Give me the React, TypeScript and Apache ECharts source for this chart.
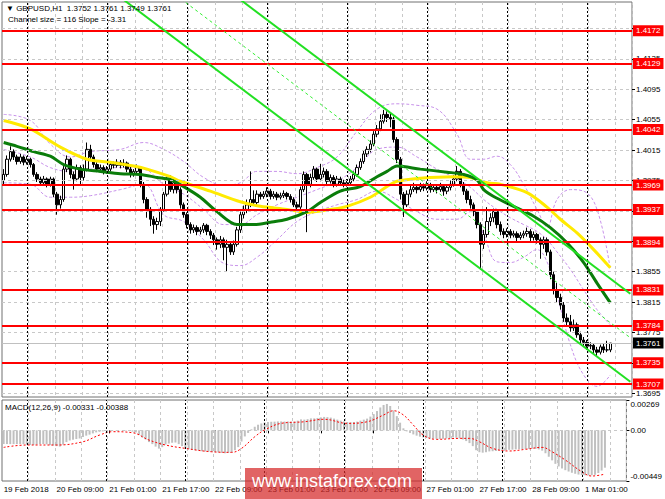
import { useEffect, useRef } from 'react';
import * as echarts from 'echarts';

const fontFamily = '"Liberation Sans", Arial, sans-serif';

// H1 bars, 19 Feb 17:00 .. 1 Mar 07:00, plus the right shift of empty slots
const slotCount = 189;
const slots = Array.from({ length: slotCount }, (_, i) => String(i));
const dateLabels = [
    '19 Feb 2018', '20 Feb 09:00', '21 Feb 01:00', '21 Feb 17:00', '22 Feb 09:00', '23 Feb 01:00',
    '23 Feb 17:00', '26 Feb 09:00', '27 Feb 01:00', '27 Feb 17:00', '28 Feb 09:00', '1 Mar 01:00',
];
const daySeparators = [7, 31, 55, 79, 103, 127, 151, 175];

const firstOpen = 1.3975;
const closes = [
    1.3983, 1.4003, 1.4013, 1.4006, 1.4000, 1.4006, 1.3999, 1.4003, 1.3996, 1.3983,
    1.3977, 1.3972, 1.3977, 1.3970, 1.3977, 1.3957, 1.3943, 1.3950, 1.3990, 1.4003,
    1.3983, 1.3977, 1.3992, 1.3979, 1.3990, 1.4016, 1.4006, 1.3996, 1.3990, 1.3992,
    1.3987, 1.3990, 1.3996, 1.3995, 1.3999, 1.3995, 1.3998, 1.3990, 1.3983, 1.3987,
    1.3992, 1.3970, 1.3950, 1.3937, 1.3924, 1.3917, 1.3921, 1.3937, 1.3957, 1.3977,
    1.3963, 1.3972, 1.3963, 1.3943, 1.3930, 1.3917, 1.3910, 1.3913, 1.3908, 1.3910,
    1.3916, 1.3908, 1.3903, 1.3897, 1.3891, 1.3897, 1.3887, 1.3891, 1.3881, 1.3891,
    1.3910, 1.3930, 1.3937, 1.3943, 1.3950, 1.3946, 1.3957, 1.3954, 1.3957, 1.3961,
    1.3954, 1.3957, 1.3953, 1.3955, 1.3958, 1.3954, 1.3950, 1.3943, 1.3940, 1.3963,
    1.3983, 1.3970, 1.3979, 1.3990, 1.3977, 1.3983, 1.3987, 1.3974, 1.3979, 1.3970,
    1.3977, 1.3972, 1.3970, 1.3972, 1.3977, 1.3983, 1.3992, 1.4000, 1.4010, 1.4016,
    1.4023, 1.4036, 1.4043, 1.4053, 1.4062, 1.4058, 1.4056, 1.4029, 1.4003, 1.3957,
    1.3943, 1.3957, 1.3963, 1.3966, 1.3963, 1.3967, 1.3965, 1.3969, 1.3963, 1.3966,
    1.3963, 1.3967, 1.3961, 1.3966, 1.3970, 1.3977, 1.3987, 1.3970, 1.3961, 1.3950,
    1.3943, 1.3934, 1.3917, 1.3891, 1.3904, 1.3921, 1.3926, 1.3934, 1.3917, 1.3908,
    1.3904, 1.3908, 1.3903, 1.3905, 1.3900, 1.3903, 1.3905, 1.3908, 1.3900, 1.3904,
    1.3897, 1.3891, 1.3897, 1.3881, 1.3851, 1.3831, 1.3821, 1.3811, 1.3794, 1.3789,
    1.3781, 1.3785, 1.3772, 1.3765, 1.3762, 1.3757, 1.3758, 1.3752, 1.3749, 1.3756,
    1.3752, 1.3752, 1.3761,
];
const highs = [
    1.3990, 1.4008, 1.4020, 1.4016, 1.4009, 1.4010, 1.4008, 1.4007, 1.4005, 1.3998,
    1.3986, 1.3980, 1.3981, 1.3979, 1.3980, 1.3979, 1.3960, 1.3955, 1.3994, 1.4008,
    1.4005, 1.3987, 1.3996, 1.3995, 1.3996, 1.4025, 1.4022, 1.4009, 1.3999, 1.3996,
    1.3995, 1.3994, 1.3999, 1.4000, 1.4003, 1.4002, 1.4003, 1.4000, 1.3993, 1.3990,
    1.3996, 1.3994, 1.3973, 1.3953, 1.3940, 1.3928, 1.3926, 1.3940, 1.3960, 1.3980,
    1.3982, 1.3977, 1.3976, 1.3966, 1.3946, 1.3933, 1.3920, 1.3917, 1.3916, 1.3914,
    1.3919, 1.3918, 1.3911, 1.3906, 1.3900, 1.3902, 1.3900, 1.3897, 1.3895, 1.3896,
    1.3914, 1.3934, 1.3942, 1.3950, 1.3987, 1.3962, 1.3962, 1.3960, 1.3961, 1.3966,
    1.3964, 1.3961, 1.3960, 1.3959, 1.3962, 1.3960, 1.3957, 1.3953, 1.3947, 1.3967,
    1.3987, 1.3985, 1.3984, 1.3994, 1.3992, 1.3997, 1.3992, 1.3990, 1.3983, 1.3982,
    1.3981, 1.3980, 1.3976, 1.3977, 1.3981, 1.3987, 1.3996, 1.4004, 1.4014, 1.4020,
    1.4028, 1.4040, 1.4048, 1.4062, 1.4068, 1.4066, 1.4064, 1.4059, 1.4032, 1.4006,
    1.3960, 1.3962, 1.3968, 1.3972, 1.3970, 1.3972, 1.3971, 1.3974, 1.3972, 1.3970,
    1.3969, 1.3972, 1.3970, 1.3970, 1.3975, 1.3982, 1.3994, 1.3990, 1.3973, 1.3964,
    1.3955, 1.3946, 1.3937, 1.3920, 1.3910, 1.3940, 1.3932, 1.3938, 1.3937, 1.3921,
    1.3912, 1.3912, 1.3911, 1.3909, 1.3908, 1.3907, 1.3909, 1.3913, 1.3911, 1.3908,
    1.3906, 1.3900, 1.3901, 1.3900, 1.3884, 1.3855, 1.3840, 1.3826, 1.3815, 1.3800,
    1.3798, 1.3792, 1.3788, 1.3776, 1.3769, 1.3765, 1.3762, 1.3760, 1.3756, 1.3759,
    1.3760, 1.3764, 1.3761,
];
const lows = [
    1.3970, 1.3980, 1.4000, 1.4002, 1.3996, 1.3997, 1.3995, 1.3996, 1.3992, 1.3980,
    1.3973, 1.3968, 1.3969, 1.3966, 1.3967, 1.3953, 1.3930, 1.3938, 1.3947, 1.3986,
    1.3978, 1.3963, 1.3974, 1.3968, 1.3975, 1.3987, 1.4002, 1.3992, 1.3986, 1.3985,
    1.3983, 1.3984, 1.3987, 1.3991, 1.3992, 1.3991, 1.3992, 1.3986, 1.3979, 1.3980,
    1.3983, 1.3966, 1.3945, 1.3926, 1.3915, 1.3905, 1.3910, 1.3915, 1.3934, 1.3954,
    1.3960, 1.3958, 1.3958, 1.3938, 1.3926, 1.3912, 1.3905, 1.3906, 1.3903, 1.3904,
    1.3906, 1.3903, 1.3898, 1.3890, 1.3884, 1.3886, 1.3870, 1.3855, 1.3877, 1.3877,
    1.3888, 1.3906, 1.3925, 1.3932, 1.3940, 1.3942, 1.3943, 1.3950, 1.3951, 1.3953,
    1.3950, 1.3951, 1.3949, 1.3950, 1.3952, 1.3950, 1.3946, 1.3940, 1.3935, 1.3937,
    1.3960, 1.3907, 1.3966, 1.3976, 1.3973, 1.3974, 1.3979, 1.3970, 1.3971, 1.3966,
    1.3967, 1.3968, 1.3966, 1.3967, 1.3969, 1.3974, 1.3980, 1.3989, 1.3997, 1.4006,
    1.4012, 1.4020, 1.4032, 1.4040, 1.4050, 1.4052, 1.4045, 1.4025, 1.3998, 1.3950,
    1.3927, 1.3940, 1.3953, 1.3960, 1.3958, 1.3960, 1.3961, 1.3962, 1.3959, 1.3960,
    1.3958, 1.3960, 1.3955, 1.3957, 1.3962, 1.3967, 1.3974, 1.3966, 1.3956, 1.3945,
    1.3938, 1.3928, 1.3912, 1.3858, 1.3885, 1.3900, 1.3915, 1.3920, 1.3912, 1.3903,
    1.3899, 1.3900, 1.3899, 1.3900, 1.3895, 1.3897, 1.3899, 1.3901, 1.3895, 1.3896,
    1.3892, 1.3872, 1.3885, 1.3876, 1.3845, 1.3825, 1.3815, 1.3805, 1.3789, 1.3783,
    1.3776, 1.3777, 1.3768, 1.3760, 1.3757, 1.3752, 1.3753, 1.3747, 1.3744, 1.3746,
    1.3748, 1.3749, 1.3749,
];

// moving averages, read at a few bars: [bar, price]
const slowMa = [
    [0, 1.4054], [8, 1.4043], [17, 1.4019], [25, 1.4003], [32, 1.3999], [39, 1.3994], [43, 1.3990],
    [50, 1.3980], [53, 1.3974], [62, 1.3961], [71, 1.3947], [77, 1.3941], [85, 1.3937], [91, 1.3933],
    [98, 1.3937], [103, 1.3941], [110, 1.3953], [115, 1.3967], [118, 1.3974], [125, 1.3978],
    [135, 1.3980], [140, 1.3979], [145, 1.3972], [149, 1.3970], [157, 1.3959], [163, 1.3940],
    [167, 1.3924], [172, 1.3906], [177, 1.3884], [182, 1.3860],
];
const fastMa = [
    [0, 1.4025], [4, 1.4020], [9, 1.4013], [14, 1.4007], [18, 1.3996], [23, 1.3990], [29, 1.3987],
    [35, 1.3984], [41, 1.3983], [46, 1.3979], [50, 1.3976], [54, 1.3967], [59, 1.3953], [64, 1.3934],
    [70, 1.3917], [75, 1.3917], [80, 1.3920], [85, 1.3924], [91, 1.3934], [95, 1.3946], [101, 1.3961],
    [107, 1.3967], [112, 1.3980], [115, 1.3987], [118, 1.3994], [125, 1.3990], [133, 1.3986],
    [138, 1.3983], [142, 1.3976], [144, 1.3963], [147, 1.3954], [153, 1.3941], [159, 1.3928],
    [164, 1.3913], [169, 1.3893], [174, 1.3867], [178, 1.3840], [182, 1.3814],
];

// bands
const bandBars = [0, 8, 14, 20, 26, 35, 42, 48, 54, 60, 66, 71, 76, 82, 88, 94, 100, 106, 112, 118, 124, 130, 136, 140, 144, 148, 152, 156, 160, 163, 166, 170, 174, 178, 182];
const bandUpper = [1.4062, 1.4054, 1.4023, 1.4006, 1.4013, 1.4016, 1.4025, 1.4016, 1.4000, 1.3979, 1.3969, 1.3972, 1.3987, 1.3987, 1.3984, 1.3992, 1.4006, 1.4040, 1.4069, 1.4076, 1.4074, 1.4069, 1.4036, 1.4003, 1.4003, 1.4007, 1.3996, 1.3970, 1.3937, 1.3914, 1.3950, 1.3963, 1.3961, 1.3937, 1.3858];
const bandMiddle = [1.4016, 1.4006, 1.3992, 1.3987, 1.3990, 1.3992, 1.3990, 1.3970, 1.3957, 1.3937, 1.3917, 1.3917, 1.3930, 1.3943, 1.3953, 1.3963, 1.3974, 1.3992, 1.4016, 1.4019, 1.4006, 1.3990, 1.3977, 1.3966, 1.3950, 1.3937, 1.3926, 1.3917, 1.3908, 1.3897, 1.3881, 1.3858, 1.3831, 1.3805, 1.3785];
const bandLower = [1.3972, 1.3970, 1.3953, 1.3953, 1.3955, 1.3963, 1.3970, 1.3930, 1.3921, 1.3897, 1.3866, 1.3863, 1.3874, 1.3897, 1.3921, 1.3934, 1.3943, 1.3950, 1.3961, 1.3950, 1.3934, 1.3924, 1.3924, 1.3934, 1.3904, 1.3868, 1.3867, 1.3874, 1.3884, 1.3868, 1.3825, 1.3759, 1.3719, 1.3704, 1.3719];

// regression channel, size 116 pips
const channelUpper = [[0, 1.4448], [188, 1.3826]];
const channelMiddle = [[0, 1.4390], [188, 1.3768]];
const channelLower = [[0, 1.4332], [188, 1.3710]];

const levels = [1.4172, 1.4129, 1.4042, 1.3969, 1.3937, 1.3894, 1.3831, 1.3784, 1.3735, 1.3707];
const priceTicks = [1.4175, 1.4135, 1.4095, 1.4055, 1.4015, 1.3975, 1.3935, 1.3895, 1.3855, 1.3815, 1.3775, 1.3735, 1.3695];
const lastPrice = 1.3761;

const macdHist = [
    -0.00121, -0.00121, -0.00122, -0.00122, -0.00122, -0.00121, -0.00122, -0.00126, -0.00129, -0.00130,
    -0.00126, -0.00122, -0.00121, -0.00124, -0.00131, -0.00135, -0.00140, -0.00144, -0.00126, -0.00104,
    -0.00090, -0.00083, -0.00077, -0.00072, -0.00059, -0.00047, -0.00038, -0.00027, -0.00018, -0.00013,
    -0.00009, -0.00006, -0.00003, -0.00002, -0.00002, -0.00001, -0.00002, -0.00004, -0.00005, -0.00011,
    -0.00018, -0.00041, -0.00063, -0.00081, -0.00104, -0.00122, -0.00144, -0.00162, -0.00149, -0.00126,
    -0.00117, -0.00110, -0.00108, -0.00122, -0.00140, -0.00158, -0.00167, -0.00173, -0.00177, -0.00180,
    -0.00185, -0.00187, -0.00189, -0.00191, -0.00194, -0.00196, -0.00200, -0.00203, -0.00200, -0.00196,
    -0.00176, -0.00149, -0.00099, -0.00054, -0.00023, 0.00009, 0.00032, 0.00050, 0.00061, 0.00070,
    0.00074, 0.00076, 0.00077, 0.00079, 0.00079, 0.00078, 0.00079, 0.00077, 0.00077, 0.00086,
    0.00097, 0.00095, 0.00099, 0.00106, 0.00106, 0.00110, 0.00115, 0.00119, 0.00117, 0.00113,
    0.00104, 0.00095, 0.00086, 0.00079, 0.00074, 0.00072, 0.00074, 0.00077, 0.00086, 0.00095,
    0.00104, 0.00122, 0.00144, 0.00171, 0.00203, 0.00225, 0.00234, 0.00216, 0.00176, 0.00126,
    0.00068, 0.00018, -0.00009, -0.00023, -0.00036, -0.00047, -0.00056, -0.00063, -0.00068, -0.00072,
    -0.00074, -0.00075, -0.00076, -0.00075, -0.00072, -0.00070, -0.00063, -0.00065, -0.00072, -0.00081,
    -0.00095, -0.00113, -0.00140, -0.00176, -0.00194, -0.00198, -0.00194, -0.00187, -0.00185, -0.00183,
    -0.00180, -0.00178, -0.00176, -0.00173, -0.00171, -0.00169, -0.00167, -0.00166, -0.00165, -0.00164,
    -0.00162, -0.00164, -0.00169, -0.00180, -0.00203, -0.00234, -0.00266, -0.00297, -0.00320, -0.00338,
    -0.00353, -0.00365, -0.00376, -0.00385, -0.00392, -0.00396, -0.00398, -0.00399, -0.00398, -0.00394,
    -0.00378, -0.00356, -0.00331,
];
const macdSignal = [
    [0, -0.00151], [7, -0.00130], [16, -0.00130], [24, -0.00101], [29, -0.00042], [33, -0.00012],
    [39, -0.00021], [44, -0.00086], [49, -0.00130], [55, -0.00160], [63, -0.00190], [69, -0.00195],
    [72, -0.00160], [76, -0.00057], [79, 0.00003], [84, 0.00062], [91, 0.00076], [97, 0.00098],
    [104, 0.00062], [110, 0.00076], [115, 0.00136], [118, 0.00174], [121, 0.00136], [124, 0.00047],
    [127, -0.00042], [131, -0.00080], [138, -0.00071], [141, -0.00071], [144, -0.00101], [148, -0.00160],
    [153, -0.00183], [158, -0.00168], [163, -0.00151], [166, -0.00190], [170, -0.00263], [175, -0.00367],
    [178, -0.00405], [182, -0.00388],
];
const macdTicks = [0.00269, 0, -0.00449];

export default function App() {
    const chartRef = useRef<HTMLDivElement>(null);

    useEffect(() => {
        if (!chartRef.current) return;
        document.body.style.margin = '0';
        const chart = echarts.init(chartRef.current, undefined, { renderer: 'svg' });

        const candles = closes.map((c, i) => [i === 0 ? firstOpen : closes[i - 1], c, lows[i], highs[i]]);
        const vGrid = { show: true, interval: (i: number) => i > 0 && i % 8 === 0, lineStyle: { color: '#c8c8c8', type: [3, 3], width: 1 } };
        const separators = daySeparators.map((i) => ({ xAxis: i, lineStyle: { color: '#000', type: [2, 2], width: 1 } }));
        const band = (values: number[]) => ({
            type: 'line', xAxisIndex: 0, yAxisIndex: 0, z: 2, silent: true, symbol: 'none', smooth: 0.4,
            data: bandBars.map((b, k) => [b, values[k]]),
            lineStyle: { color: '#c892ea', width: 1, type: [3, 2] },
        });
        const channel = (points: number[][], dashed: boolean) => ({
            type: 'line', xAxisIndex: 0, yAxisIndex: 0, z: 6, silent: true, symbol: 'none', clip: true,
            data: points,
            lineStyle: dashed ? { color: '#33ee33', width: 1, type: [3, 3] } : { color: '#22e022', width: 2 },
        });
        // one series per price tag, each carrying a single horizontal mark line
        const priceTag = (value: number, line: string, box: string, width: number) => ({
            type: 'line', xAxisIndex: 0, yAxisIndex: 0, z: 5, silent: true, data: [],
            markLine: {
                silent: true, symbol: 'none', precision: 6,
                data: [{
                    yAxis: value,
                    lineStyle: { color: line, width, type: 'solid' },
                    label: { show: true, position: 'end', distance: 1, formatter: value.toFixed(4), color: '#fff', backgroundColor: box, padding: [2, 3, 1, 3], fontSize: 8, fontFamily },
                }],
            },
        });

        const option = {
            animation: false,
            backgroundColor: '#ffffff',
            textStyle: { fontFamily },
            grid: [
                { left: 2, top: 2, width: 630, height: 395, show: true, borderColor: '#707070', borderWidth: 1 },
                { left: 2, top: 400, width: 630, height: 81, show: true, borderColor: '#707070', borderWidth: 1 },
            ],
            xAxis: [
                {
                    type: 'category', gridIndex: 0, data: slots, boundaryGap: true,
                    axisLine: { show: false }, axisTick: { show: false }, axisLabel: { show: false },
                    splitLine: vGrid,
                },
                {
                    type: 'category', gridIndex: 1, data: slots, boundaryGap: true,
                    axisLine: { show: false },
                    axisTick: { show: true, interval: 15, alignWithLabel: true, length: 3, lineStyle: { color: '#000' } },
                    axisLabel: {
                        interval: 15, align: 'left', margin: 4, fontSize: 8, color: '#000', fontFamily,
                        formatter: (_v: string, i: number) => (i % 16 === 0 ? dateLabels[i / 16] ?? '' : ''),
                    },
                    splitLine: vGrid,
                },
            ],
            yAxis: [
                {
                    type: 'value', gridIndex: 0, position: 'right', min: 1.369, max: 1.421,
                    splitLine: { show: false }, axisLine: { show: false },
                    axisTick: { show: true, customValues: priceTicks, length: 3, lineStyle: { color: '#000' } },
                    axisLabel: { customValues: priceTicks, formatter: (v: number) => v.toFixed(4), fontSize: 8, color: '#000', margin: 4, fontFamily },
                },
                {
                    type: 'value', gridIndex: 1, position: 'right', min: -0.00449, max: 0.00269,
                    splitLine: { show: false }, axisLine: { show: false },
                    axisTick: { show: true, customValues: macdTicks, length: 3, lineStyle: { color: '#000' } },
                    axisLabel: {
                        customValues: macdTicks, margin: 4, fontSize: 8, color: '#000', fontFamily,
                        formatter: (v: number) => (v > 0 ? `{t|${v.toFixed(5)}}` : v < 0 ? `{b|${v.toFixed(5)}}` : '{m|0.00}'),
                        rich: {
                            t: { padding: [9, 0, 0, 0], fontSize: 8, color: '#000', fontFamily },
                            b: { padding: [0, 0, 9, 0], fontSize: 8, color: '#000', fontFamily },
                            m: { fontSize: 8, color: '#000', fontFamily },
                        },
                    },
                },
            ],
            graphic: [
                { type: 'text', left: 6, top: 4, z: 50, style: { text: '▼ GBPUSD,H1  1.3752 1.3761 1.3749 1.3761', fontSize: 8, fill: '#000', fontFamily } },
                { type: 'text', left: 8, top: 15, z: 50, style: { text: 'Channel size = 116 Slope = -3.31', fontSize: 8, fill: '#000', fontFamily } },
                { type: 'text', left: 5, top: 403, z: 50, style: { text: 'MACD(12,26,9) -0.00331 -0.00388', fontSize: 8, fill: '#000', fontFamily } },
                { type: 'rect', left: 245, top: 468, z: 60, shape: { width: 177, height: 31 }, style: { fill: 'rgba(214,40,40,0.72)' } },
                { type: 'text', left: 252, top: 472, z: 61, style: { text: 'www.instaforex.com', fontSize: 18, fill: '#ffffff', fontFamily } },
            ],
            series: [
                {
                    type: 'line', xAxisIndex: 0, yAxisIndex: 0, z: 1, silent: true, data: [],
                    markLine: {
                        silent: true, symbol: 'none', precision: 6, label: { show: false },
                        data: [
                            ...priceTicks.map((v) => ({ yAxis: v, lineStyle: { color: '#c8c8c8', type: [3, 3], width: 1 } })),
                            ...separators,
                        ],
                    },
                },
                band(bandUpper),
                band(bandMiddle),
                band(bandLower),
                {
                    type: 'candlestick', xAxisIndex: 0, yAxisIndex: 0, z: 3, silent: true, barWidth: 2.6,
                    data: candles,
                    itemStyle: { color: '#ffffff', color0: '#000000', borderColor: '#000000', borderColor0: '#000000', borderWidth: 1 },
                },
                {
                    type: 'line', xAxisIndex: 0, yAxisIndex: 0, z: 4, silent: true, symbol: 'none', smooth: 0.3,
                    data: slowMa, lineStyle: { color: '#ffea00', width: 3 },
                },
                {
                    type: 'line', xAxisIndex: 0, yAxisIndex: 0, z: 4, silent: true, symbol: 'none', smooth: 0.3,
                    data: fastMa, lineStyle: { color: '#0a7d0a', width: 3 },
                },
                priceTag(lastPrice, '#c0c0c0', '#000000', 1),
                ...levels.map((v) => priceTag(v, '#ff0000', '#ff0000', 2)),
                channel(channelUpper, false),
                channel(channelMiddle, true),
                channel(channelLower, false),
                {
                    type: 'bar', xAxisIndex: 1, yAxisIndex: 1, z: 2, silent: true, barWidth: 2,
                    data: macdHist, itemStyle: { color: '#c0c0c0' },
                    markLine: {
                        silent: true, symbol: 'none', precision: 6, label: { show: false },
                        data: [{ yAxis: 0, lineStyle: { color: '#c8c8c8', type: [3, 3], width: 1 } }, ...separators],
                    },
                },
                {
                    type: 'line', xAxisIndex: 1, yAxisIndex: 1, z: 3, silent: true, symbol: 'none', smooth: 0.4,
                    data: macdSignal, lineStyle: { color: '#ff0000', width: 1, type: [2, 2] },
                },
            ],
        };

        chart.setOption(option as echarts.EChartsOption);
        return () => chart.dispose();
    }, []);

    return <div ref={chartRef} style={{ width: 665, height: 499, background: '#fff' }} />;
}
